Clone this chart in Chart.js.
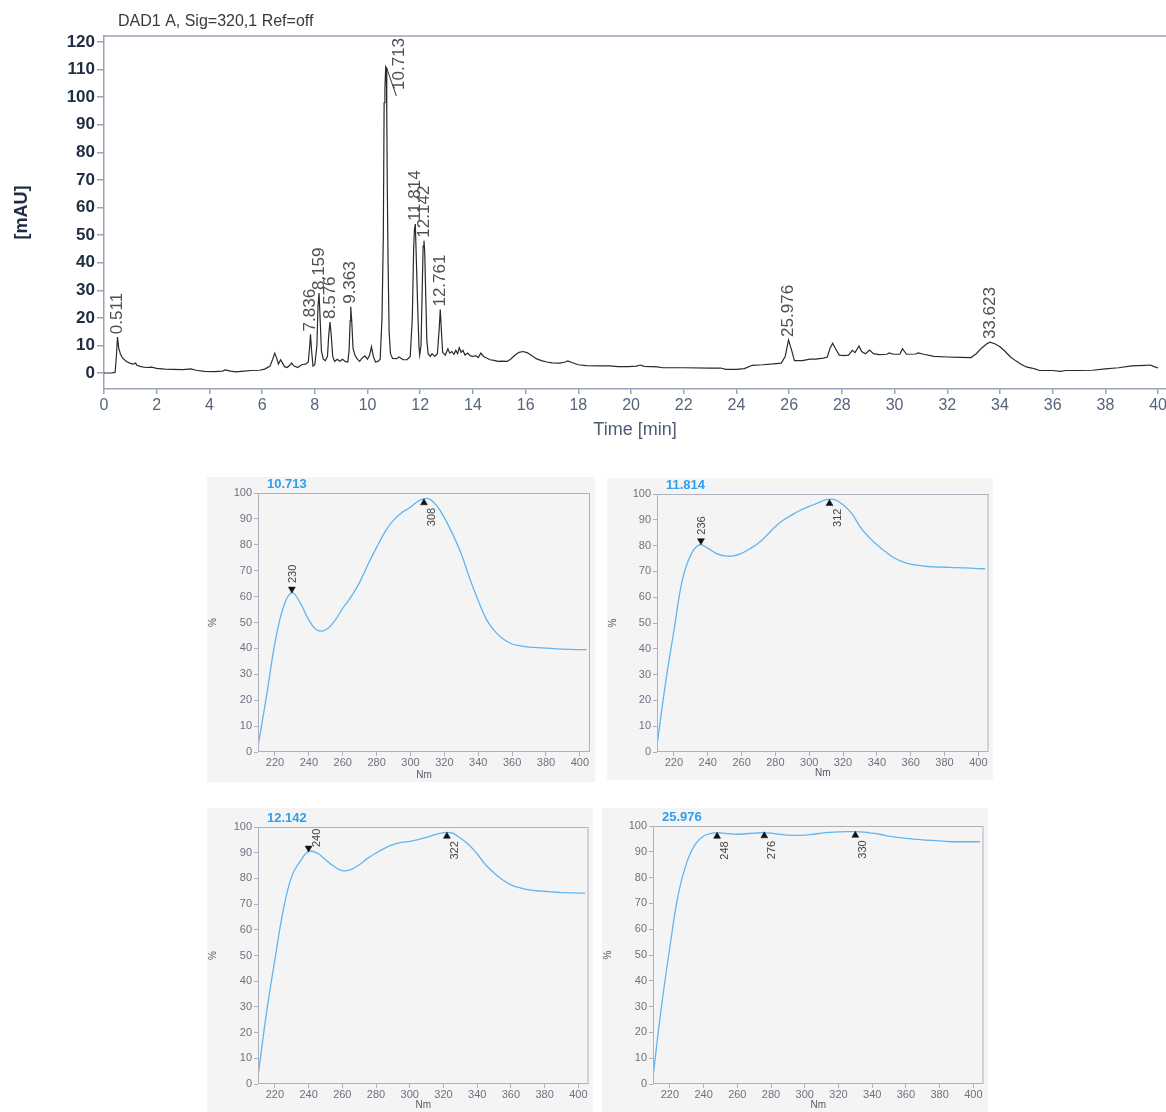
<!DOCTYPE html>
<html><head><meta charset="utf-8">
<script src="https://cdn.jsdelivr.net/npm/chart.js"></script>
<style>
html,body{margin:0;padding:0;background:#fff;width:1166px;height:1112px;overflow:hidden;}
canvas{position:absolute;}
</style></head><body>
<canvas id="chrom" width="1166" height="445" style="left:0px;top:0px"></canvas>
<canvas id="p1" width="388" height="305" style="left:207px;top:477px;background:#f4f4f4"></canvas>
<canvas id="p2" width="386" height="302" style="left:607px;top:478px;background:#f4f4f4"></canvas>
<canvas id="p3" width="386" height="304" style="left:207px;top:808px;background:#f4f4f4"></canvas>
<canvas id="p4" width="386" height="304" style="left:602px;top:808px;background:#f4f4f4"></canvas>
<script>
const FONT = 'Arial, "Liberation Sans", Helvetica, sans-serif';

// ---------- Chromatogram (DAD1 A, Sig=320,1) ----------
const chromTitle = 'DAD1 A, Sig=320,1 Ref=off';
const chromTime = [0.00,0.30,0.42,0.47,0.511,0.56,0.62,0.70,0.85,1.00,1.10,1.20,1.25,1.40,1.60,1.80,2.00,2.30,2.60,3.00,3.30,3.50,3.80,4.20,4.50,4.60,4.80,5.00,5.30,5.60,5.90,6.10,6.30,6.40,6.48,6.55,6.62,6.70,6.78,6.85,6.95,7.05,7.12,7.20,7.35,7.50,7.65,7.75,7.80,7.836,7.87,7.93,8.00,8.08,8.12,8.159,8.20,8.25,8.32,8.40,8.48,8.53,8.576,8.62,8.68,8.75,8.85,8.95,9.05,9.15,9.25,9.30,9.34,9.363,9.40,9.45,9.52,9.60,9.70,9.80,9.90,10.00,10.08,10.15,10.22,10.30,10.40,10.48,10.55,10.60,10.63,10.66,10.69,10.713,10.73,10.75,10.78,10.82,10.87,10.95,11.10,11.20,11.35,11.50,11.62,11.70,11.75,11.78,11.814,11.85,11.90,11.95,11.98,12.03,12.07,12.11,12.142,12.17,12.21,12.25,12.30,12.38,12.45,12.55,12.65,12.72,12.761,12.80,12.85,12.95,13.05,13.12,13.20,13.28,13.35,13.42,13.48,13.55,13.62,13.70,13.80,13.90,14.00,14.10,14.20,14.30,14.40,14.50,14.65,14.80,14.95,15.10,15.30,15.45,15.60,15.75,15.90,16.05,16.20,16.40,16.60,16.80,17.00,17.30,17.50,17.60,17.75,18.00,18.30,18.80,19.20,19.50,19.90,20.20,20.35,20.50,21.00,21.20,22.00,23.00,23.40,23.60,24.00,24.30,24.60,25.00,25.40,25.70,25.85,25.976,26.10,26.20,26.50,26.80,27.00,27.30,27.45,27.55,27.65,27.75,27.90,28.10,28.25,28.40,28.50,28.65,28.75,28.90,29.05,29.20,29.40,29.70,29.80,29.95,30.20,30.30,30.45,30.80,30.90,31.10,31.50,32.00,32.50,32.90,33.10,33.30,33.50,33.623,33.80,34.00,34.20,34.40,34.60,34.80,35.00,35.20,35.35,35.50,36.00,36.30,36.50,37.00,37.50,38.00,38.50,39.00,39.50,39.70,39.85,40.00];
const chromAbs = [0.0,0.0,0.2,6,13,9,7,5.5,4.2,3.5,3.2,3.6,2.8,2.3,2.0,2.1,1.7,1.4,1.3,1.2,1.5,1.0,0.6,0.5,0.7,1.1,0.7,0.4,0.7,0.9,1.0,1.4,2.5,5,7.2,5.5,3.2,4.8,3.5,2.3,2.0,2.8,3.6,2.6,2.0,3.0,3.2,4.0,9,14,9,2.5,3,10,24,29,20,8,5,4.5,6,14,18.5,14,6,4.2,5,4.3,5,4.2,4.0,8,19,24,19,9,6.5,5.2,4.2,5.5,6.2,5,6.5,9.5,6,4,4.2,5,20,50,98,103,111,110.5,95,68,40,15,7,5.3,5.2,5.8,4.8,4.8,6,20,45,52,54,42,25,10,6.5,10,28,46,48,44,28,12,7,6,7,6,7,16,23,16,7.5,6.5,8.8,7.2,7.8,6.8,8.2,7,9.2,7.5,8.2,6.5,7.2,6.2,6,6.3,5.6,7.2,6.0,5.5,4.8,4.6,4.2,4.3,4.2,5.2,6.5,7.5,7.8,7.4,6.5,5.2,4.5,4.0,3.7,3.6,4.0,4.4,3.8,3.0,2.7,2.6,2.6,2.3,2.3,2.5,2.9,2.4,2.2,1.9,1.9,1.8,1.8,1.3,1.3,1.6,2.8,3.0,3.3,3.6,6,12,8,4.5,4.5,5.0,5.0,5.4,5.8,9,10.8,9,6.5,6.3,6.5,8.2,7.4,9.8,7.8,7.0,8.3,7.0,6.7,6.8,7.3,6.8,6.8,8.8,6.8,6.9,7.3,6.8,6.0,5.8,5.7,5.6,7,9,10.6,11.2,10.6,9.5,7.8,5.8,4.4,3.2,2.2,1.8,1.4,0.9,0.9,0.6,0.9,0.9,1.0,1.5,1.9,2.6,2.8,2.9,2.3,1.8];
const chromXTicks = [0,2,4,6,8,10,12,14,16,18,20,22,24,26,28,30,32,34,36,38,40];
const chromYTicks = [0,10,20,30,40,50,60,70,80,90,100,110,120];
const peakTimes = [0.511,7.836,8.159,8.576,9.363,10.713,11.814,12.142,12.761,25.976,33.623];

// ---------- UV spectra ----------
const specNm = [210,215,220,225,230,235,240,245,250,255,260,265,270,275,280,285,290,295,300,305,310,315,320,325,330,335,340,345,350,355,360,365,370,375,380,385,390,395,400,404];
const specXTicks = [220,240,260,280,300,320,340,360,380,400];
const specYTicks = [0,10,20,30,40,50,60,70,80,90,100];

const spec10713 = [2.2,21.5,42,56,61.5,57.5,51,47,47.2,50.4,55.5,60,65.5,72.5,79,85,89.5,92.5,94.5,97.0,97.9,95.5,90.5,84,76.5,67,58.5,51,46.5,43.5,41.7,41,40.5,40.3,40.1,39.9,39.7,39.6,39.5,39.5];
const spec11814 = [2.6,26.5,47,66.7,76.4,80.3,79,77,76,76,77,78.8,81,84,87.4,90,92,93.8,95.2,96.5,97.8,97.8,95.8,92.6,87.4,83.5,80.3,77.7,75.3,73.8,72.8,72.3,71.9,71.7,71.6,71.5,71.4,71.3,71.1,71.0];
const spec12142 = [2.9,27.5,48.3,67.8,80.8,86.6,90.5,89.9,87.3,84.7,83,83.4,85.3,87.8,89.9,91.7,93.1,94,94.4,95.1,96,97,97.8,97.7,95.7,93.1,89.5,85.3,82.1,79.5,77.5,76.4,75.6,75.2,75,74.7,74.5,74.4,74.3,74.2];
const spec25976 = [2.8,29.9,53,73.6,85.8,92.9,96.1,97.2,97.3,97,96.8,97,97.2,97.4,97.2,96.8,96.5,96.4,96.5,96.8,97.2,97.5,97.7,97.8,97.8,97.6,97.2,96.7,96.1,95.6,95.2,94.9,94.6,94.4,94.2,94.0,93.9,93.9,93.9,93.9];

const mk10713Nm = [230,308];      const mk10713Pct = [62.9,96.2];      const mk10713Dir = ['down','up'];
const mk11814Nm = [236,312];      const mk11814Pct = [81.9,96.3];      const mk11814Dir = ['down','up'];
const mk12142Nm = [240,322];      const mk12142Pct = [91.8,96.4];      const mk12142Dir = ['down','up'];
const mk25976Nm = [248,276,330];  const mk25976Pct = [96.0,96.2,96.4]; const mk25976Dir = ['up','up','up'];

// ---------- chromatogram chart ----------
const AXIS = '#9aa3b8';
const chromPlugin = {
  id: 'chromDecor',
  afterDraw(chart) {
    const {ctx, chartArea, scales: {x, y}} = chart;
    ctx.save();
    ctx.strokeStyle = AXIS; ctx.lineWidth = 1.5;
    ctx.beginPath(); ctx.moveTo(chartArea.left, chartArea.top); ctx.lineTo(chart.width, chartArea.top); ctx.stroke();
    ctx.font = '16px ' + FONT; ctx.fillStyle = '#3a3a3a'; ctx.textAlign = 'left'; ctx.textBaseline = 'middle';
    ctx.fillText(chromTitle, chartArea.left + 14, 21.5);
    ctx.font = '17px ' + FONT; ctx.fillStyle = '#505050';
    peakTimes.forEach(t => {
      let apex = -Infinity;
      chromTime.forEach((tt, j) => { if (Math.abs(tt - t) < 0.06) apex = Math.max(apex, chromAbs[j]); });
      const px = x.getPixelForValue(t), py = y.getPixelForValue(apex);
      const text = t.toFixed(3);
      const w = ctx.measureText(text).width;
      let lx = px, lb = py - 3;
      if (lb - w < chartArea.top + 1) {
        lx = px + 13; lb = chartArea.top + 2 + w;
        ctx.strokeStyle = '#333'; ctx.lineWidth = 1;
        ctx.beginPath(); ctx.moveTo(px, py); ctx.lineTo(lx - 3, lb + 6); ctx.stroke();
      }
      ctx.save(); ctx.translate(lx, lb); ctx.rotate(-Math.PI / 2);
      ctx.textAlign = 'left'; ctx.textBaseline = 'middle';
      ctx.fillText(text, 0, 0); ctx.restore();
    });
    ctx.restore();
  }
};

new Chart(document.getElementById('chrom'), {
  type: 'scatter',
  data: { datasets: [{
    data: chromTime.map((t, i) => ({x: t, y: chromAbs[i]})),
    showLine: true, borderColor: '#2a2a2a', borderWidth: 1.2, pointRadius: 0, tension: 0, fill: false
  }]},
  options: {
    responsive: false, animation: false, events: [],
    layout: {padding: {top: 36, right: 0, bottom: 0, left: 0}},
    plugins: {legend: {display: false}, tooltip: {enabled: false}},
    scales: {
      x: {
        type: 'linear', min: 0, max: 40.3,
        afterBuildTicks: s => { s.ticks = chromXTicks.map(v => ({value: v})); },
        afterFit: s => { s.height = 56; s.paddingLeft = 0; s.paddingRight = 0; },
        grid: {display: true, drawOnChartArea: false, drawTicks: true, tickLength: 5, color: AXIS, lineWidth: 1.5},
        border: {display: true, color: AXIS, width: 1.5},
        ticks: {autoSkip: false, maxRotation: 0, padding: 1.5, color: '#56647a', font: {family: FONT, size: 16}},
        title: {display: true, text: 'Time [min]', color: '#4e5c72', font: {family: FONT, size: 18}, padding: {top: 0, bottom: 4}}
      },
      y: {
        type: 'linear', min: -5.8, max: 122.2,
        afterBuildTicks: s => { s.ticks = chromYTicks.map(v => ({value: v})); },
        afterFit: s => { s.width = 104; s.paddingTop = 0; s.paddingBottom = 0; },
        grid: {display: true, drawOnChartArea: false, drawTicks: true, tickLength: 7, color: AXIS, lineWidth: 1.5},
        border: {display: true, color: AXIS, width: 1.5},
        ticks: {autoSkip: false, padding: 2, color: '#1f2d44', font: {family: FONT, size: 17, weight: 'bold'}},
        title: {display: true, text: '[mAU]', color: '#1f2d44', font: {family: FONT, size: 18, weight: 'bold'}, padding: {top: 11, bottom: 0}}
      }
    }
  },
  plugins: [chromPlugin]
});

// ---------- spectrum panels ----------
const SPEC_AXIS = '#aeb2be';
const specPlugin = {
  id: 'specDecor',
  afterDraw(chart, args, opts) {
    const {ctx, chartArea, scales: {x, y}} = chart;
    ctx.save();
    ctx.strokeStyle = SPEC_AXIS; ctx.lineWidth = 1;
    ctx.strokeRect(chartArea.left + 0.5, chartArea.top + 0.5, chartArea.right - chartArea.left - 1, chartArea.bottom - chartArea.top - 1);
    ctx.font = 'bold 13px ' + FONT; ctx.fillStyle = '#2f9ff0'; ctx.textAlign = 'left'; ctx.textBaseline = 'middle';
    ctx.fillText(opts.title, chartArea.left + 9, chartArea.top - 8.5);
    ctx.font = '11px ' + FONT; ctx.fillStyle = '#444';
    opts.mkNm.forEach((nm, i) => {
      const px = x.getPixelForValue(nm), py = y.getPixelForValue(opts.mkPct[i]);
      const text = String(nm);
      const w = ctx.measureText(text).width;
      let lx, lb;
      if (opts.mkDir[i] === 'down') {
        lx = px + 1; lb = py - 6;
        if (lb - w < chartArea.top + 1) { lx = px + 8; lb = py - 1; }
      } else {
        lx = px + 8; lb = py + 5 + w;
      }
      ctx.save(); ctx.translate(lx, lb); ctx.rotate(-Math.PI / 2);
      ctx.textAlign = 'left'; ctx.textBaseline = 'middle';
      ctx.fillText(text, 0, 0); ctx.restore();
    });
    ctx.restore();
  }
};

function makePanel(id, title, pct, mkNm, mkPct, mkDir, lay) {
  new Chart(document.getElementById(id), {
    type: 'scatter',
    data: { datasets: [
      { data: specNm.map((n, i) => ({x: n, y: pct[i]})), showLine: true, borderColor: '#62b5f1', borderWidth: 1.3,
        pointRadius: 0, tension: 0.4, fill: false, order: 2 },
      { data: mkNm.map((n, i) => ({x: n, y: mkPct[i]})), showLine: false, pointStyle: 'triangle',
        pointRadius: 4, pointRotation: mkDir.map(d => d === 'down' ? 180 : 0),
        pointBackgroundColor: '#111', pointBorderColor: '#111', pointBorderWidth: 0.5, order: 1 }
    ]},
    options: {
      responsive: false, animation: false, events: [],
      layout: {padding: {top: lay.top, right: lay.right, bottom: 0, left: 0}},
      plugins: {legend: {display: false}, tooltip: {enabled: false},
        specDecor: {title: title, mkNm: mkNm, mkPct: mkPct, mkDir: mkDir}},
      scales: {
        x: {
          type: 'linear', min: 210, max: 406,
          afterBuildTicks: s => { s.ticks = specXTicks.map(v => ({value: v})); },
          afterFit: s => { s.height = lay.xh; s.paddingLeft = 0; s.paddingRight = 0; },
          grid: {display: true, drawOnChartArea: false, drawTicks: true, tickLength: 4, color: SPEC_AXIS},
          border: {display: false},
          ticks: {autoSkip: false, maxRotation: 0, padding: 0, color: '#6d7280', font: {family: FONT, size: 11}},
          title: {display: true, text: 'Nm', color: '#555b68', font: {family: FONT, size: 10}, padding: {top: 0, bottom: 1}}
        },
        y: {
          type: 'linear', min: 0, max: 100,
          afterBuildTicks: s => { s.ticks = specYTicks.map(v => ({value: v})); },
          afterFit: s => { s.width = lay.yw; s.paddingTop = 0; s.paddingBottom = 0; },
          grid: {display: true, drawOnChartArea: false, drawTicks: true, tickLength: 4, color: SPEC_AXIS},
          border: {display: false},
          ticks: {autoSkip: false, padding: 2, color: '#6d7280', font: {family: FONT, size: 11}},
          title: {display: true, text: '%', color: '#555b68', font: {family: FONT, size: 10}, padding: {top: 0, bottom: 0}}
        }
      }
    },
    plugins: [specPlugin]
  });
}

makePanel('p1', '10.713', spec10713, mk10713Nm, mk10713Pct, mk10713Dir, {top: 16, right: 5, xh: 30, yw: 51});
makePanel('p2', '11.814', spec11814, mk11814Nm, mk11814Pct, mk11814Dir, {top: 16, right: 4, xh: 28, yw: 50});
makePanel('p3', '12.142', spec12142, mk12142Nm, mk12142Pct, mk12142Dir, {top: 19, right: 4, xh: 28, yw: 51});
makePanel('p4', '25.976', spec25976, mk25976Nm, mk25976Pct, mk25976Dir, {top: 18, right: 2, xh: 28, yw: 51});
</script>
</body></html>
